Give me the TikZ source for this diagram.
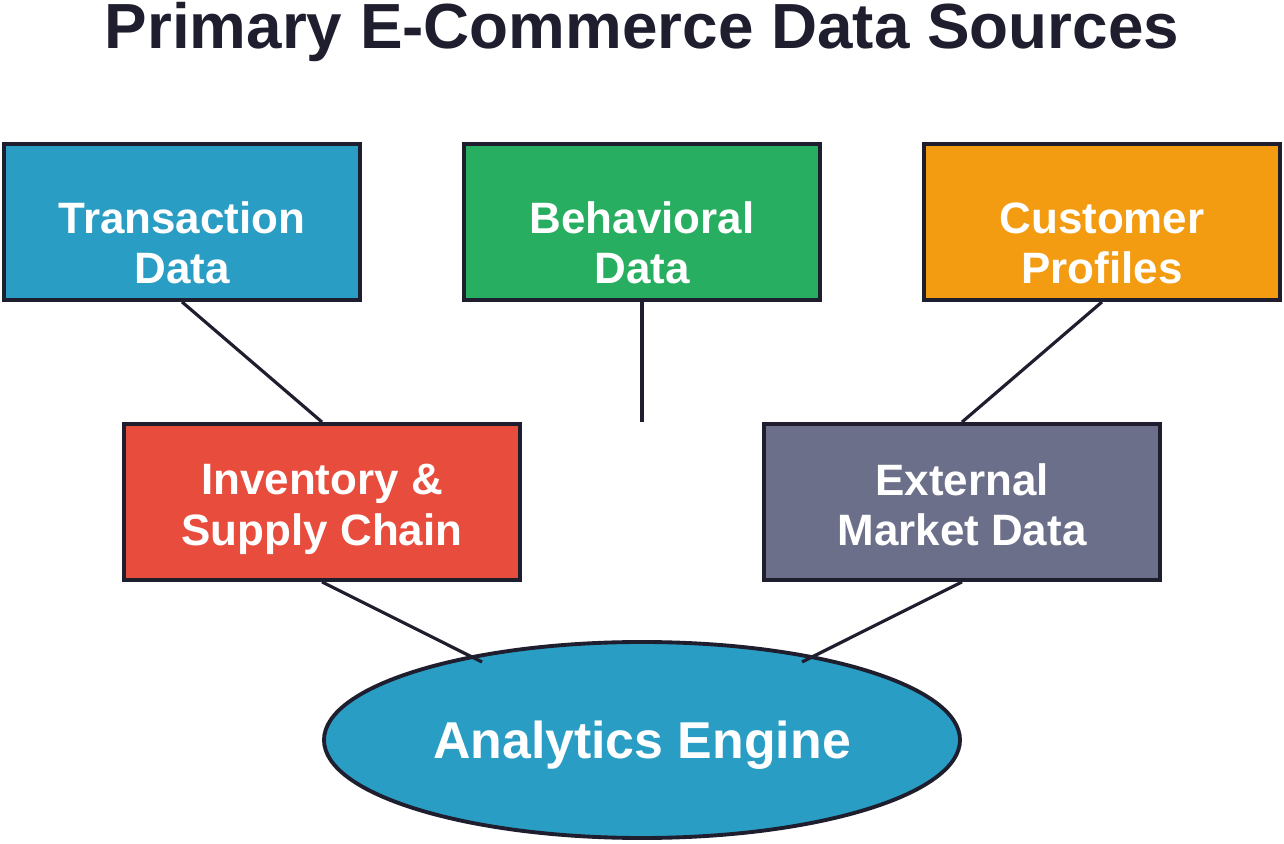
\documentclass[tikz,border=0pt]{standalone}
\usepackage{fontspec}
\setmainfont{Liberation Sans}
\usepackage{xcolor}
\usetikzlibrary{positioning,shapes.geometric}
\definecolor{cdark}{RGB}{30,30,46}
\definecolor{ctrans}{RGB}{42,157,196}
\definecolor{cbehav}{RGB}{39,174,96}
\definecolor{ccust}{RGB}{243,156,18}
\definecolor{cinv}{RGB}{231,76,60}
\definecolor{cext}{RGB}{108,111,138}

\begin{document}
\begin{tikzpicture}[
  font=\bfseries,
  src/.style={draw=cdark,line width=2.2pt,text=white,align=center,minimum width=7.12cm,minimum height=3.12cm,font=\fontsize{25}{28.5}\bfseries,text depth=0pt},
  toprow/.style={src,text height=70pt},
  wide/.style={src,minimum width=7.92cm},
  engine/.style={ellipse,draw=cdark,line width=2.2pt,fill=ctrans,text=white,minimum width=12.72cm,minimum height=3.92cm,font=\fontsize{29.5}{34}\bfseries},
  link/.style={cdark,line width=1.8pt},
]
\useasboundingbox (0,0) rectangle (25.68,16.88);
\node[text=cdark,font=\fontsize{36.3}{42}\bfseries] (title) at (12.84,16.24) {Primary E-Commerce Data Sources};

% sources, top row
\node[toprow,fill=ctrans] (trans) at (3.64,12.44) {Transaction\\Data};
\node[toprow,fill=cbehav] (behav) at (12.84,12.44) {Behavioral\\Data};
\node[toprow,fill=ccust] (cust) at (22.04,12.44) {Customer\\Profiles};

% second row
\node[wide,text height=49pt,fill=cinv] (inv) at (6.44,6.84) {Inventory \&\\Supply Chain};
\node[wide,text height=50pt,fill=cext] (ext) at (19.24,6.84) {External\\Market Data};

\node[engine,text depth=0pt] (engine) at (12.84,2.08) {Analytics Engine};

\coordinate (behavend) at (12.84,8.44);
\coordinate (invend) at (9.64,3.64);
\coordinate (extend) at (16.04,3.64);

\draw[link] (trans.south) -- (inv.north);
\draw[link] (behav.south) -- (behavend);
\draw[link] (cust.south) -- (ext.north);
\draw[link] (inv.south) -- (invend);
\draw[link] (ext.south) -- (extend);
\end{tikzpicture}
\end{document}
